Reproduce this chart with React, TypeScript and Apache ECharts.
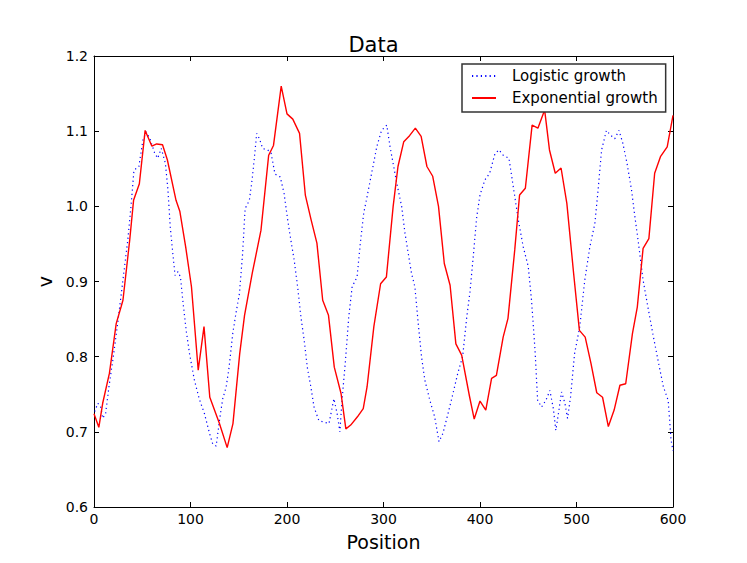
import React, { useEffect, useRef } from "react";
import * as echarts from "echarts";

const title = "Data";
const xName = "Position";
const yName = "v";
const seriesNames = ["Logistic growth", "Exponential growth"];

const logisticX = [0.7, 4, 7, 9, 12, 15.5, 20, 25, 30, 35, 38.6, 41.4, 46.5, 50.7, 54, 58, 62.8, 66, 69.7, 74, 76.6, 79, 81.7, 84, 87, 89.6, 92, 95.5, 99, 104, 109, 114.5, 119.7, 123, 126.6, 130, 133.4, 137, 140, 143.8, 147, 150.7, 154, 156.6, 161, 163.8, 166, 168.6, 171.4, 174.8, 180, 183.5, 187.5, 193, 197, 200.7, 204, 207.5, 211, 214.4, 217.8, 221, 224.7, 228, 233, 238, 243.5, 248.6, 252, 254.8, 257, 260.6, 264, 267.5, 272.6, 276, 279.5, 283, 286.3, 289.7, 293, 298, 303.4, 306.8, 310, 313.7, 318.8, 322.3, 325.7, 329, 332.5, 336, 339.4, 342.8, 348, 353, 357.5, 361.6, 366.8, 372, 377, 382, 386.3, 389.5, 393, 396.6, 400, 405, 410, 415.5, 419.7, 424, 430, 434.5, 439.7, 444.8, 450, 453.4, 457, 459.7, 463.8, 468.3, 472.4, 476, 478.6, 481, 484.5, 488, 490.7, 493.8, 498, 503.4, 508.6, 513.8, 519, 522.4, 526, 531, 535, 539.7, 544, 548, 552.4, 557, 560, 563.8, 569, 574, 579, 584.5, 590, 595, 598, 600];
const logisticY = [0.727, 0.738, 0.733, 0.718, 0.724, 0.76, 0.8, 0.849, 0.902, 0.955, 1.004, 1.048, 1.053, 1.088, 1.099, 1.09, 1.071, 1.064, 1.077, 1.057, 1.022, 0.973, 0.937, 0.908, 0.913, 0.906, 0.875, 0.835, 0.804, 0.769, 0.744, 0.724, 0.698, 0.684, 0.681, 0.715, 0.744, 0.76, 0.786, 0.831, 0.857, 0.884, 0.937, 0.997, 1.008, 1.035, 1.062, 1.097, 1.09, 1.077, 1.075, 1.071, 1.043, 1.039, 1.017, 0.982, 0.955, 0.928, 0.893, 0.853, 0.822, 0.786, 0.76, 0.733, 0.715, 0.713, 0.711, 0.744, 0.724, 0.7, 0.742, 0.795, 0.853, 0.893, 0.906, 0.951, 0.991, 1.013, 1.035, 1.057, 1.079, 1.101, 1.108, 1.079, 1.057, 1.031, 1.0, 0.964, 0.937, 0.911, 0.893, 0.844, 0.8, 0.769, 0.742, 0.72, 0.687, 0.698, 0.724, 0.751, 0.778, 0.8, 0.853, 0.885, 0.933, 0.986, 1.015, 1.035, 1.044, 1.07, 1.075, 1.068, 1.064, 1.026, 0.982, 0.946, 0.92, 0.875, 0.809, 0.742, 0.733, 0.742, 0.755, 0.731, 0.702, 0.722, 0.753, 0.738, 0.718, 0.746, 0.804, 0.84, 0.902, 0.946, 0.977, 1.022, 1.075, 1.101, 1.095, 1.09, 1.101, 1.084, 1.057, 1.022, 0.991, 0.955, 0.902, 0.866, 0.831, 0.795, 0.76, 0.742, 0.689, 0.675];

const expX = [0, 5, 9, 16, 23, 28, 30, 37, 41, 47, 53, 60, 65, 71, 76, 85, 89, 95, 101, 108, 114, 120, 130, 138, 144, 151, 156, 164, 173, 181, 186, 194, 200, 206, 213, 219, 225, 231, 237, 243, 249, 256, 261, 266, 273, 279, 283, 290, 297, 303, 310, 315, 321, 327, 333, 339, 345, 351, 357, 363, 369, 375, 381, 389, 394, 400, 406, 412, 417, 424, 429, 436, 441, 447, 454, 460, 467, 472, 478, 484, 490, 497, 503, 509, 515, 521, 527, 533, 539, 545, 551, 558, 563, 569, 575, 581, 587, 594, 600];
const expY = [0.724, 0.706, 0.738, 0.778, 0.844, 0.866, 0.875, 0.955, 1.008, 1.03, 1.101, 1.08, 1.083, 1.082, 1.062, 1.008, 0.993, 0.946, 0.893, 0.782, 0.84, 0.746, 0.711, 0.679, 0.711, 0.804, 0.855, 0.911, 0.968, 1.068, 1.081, 1.16, 1.123, 1.116, 1.097, 1.015, 0.982, 0.951, 0.875, 0.855, 0.786, 0.751, 0.704, 0.709, 0.72, 0.731, 0.76, 0.84, 0.897, 0.906, 1.0, 1.053, 1.086, 1.094, 1.104, 1.093, 1.053, 1.04, 1.0, 0.924, 0.895, 0.817, 0.802, 0.748, 0.717, 0.741, 0.729, 0.771, 0.775, 0.826, 0.851, 0.942, 1.015, 1.024, 1.108, 1.104, 1.128, 1.075, 1.044, 1.051, 1.004, 0.911, 0.835, 0.826, 0.791, 0.752, 0.746, 0.707, 0.729, 0.762, 0.764, 0.831, 0.866, 0.944, 0.957, 1.044, 1.066, 1.079, 1.121];

const xTicks = { min: 0, max: 600, interval: 100 };
const yTicks = { min: 0.6, max: 1.2, interval: 0.1 };

const FONT = "DejaVu Sans";

export default function App() {
  const ref = useRef<HTMLDivElement>(null);
  useEffect(() => {
    if (!ref.current) return;
    const chart = echarts.init(ref.current, null, { renderer: "svg" });
    const logData = logisticX.map((x, i) => [x, logisticY[i]]);
    const expData = expX.map((x, i) => [x, expY[i]]);
    const tickStyle = { inside: true, length: 5, lineStyle: { color: "#000", width: 1 } };
    const lineAxis = { show: true, onZero: false, lineStyle: { color: "#000", width: 1 } };
    chart.setOption({
      animation: false,
      backgroundColor: "#fff",
      title: {
        text: title,
        left: "center",
        top: 29,
        textStyle: { fontFamily: FONT, fontSize: 21, fontWeight: "normal", color: "#000" },
      },
      grid: { left: 94, right: 74, top: 56, bottom: 56, containLabel: false },
      legend: {
        orient: "vertical",
        left: 462,
        top: 64,
        itemWidth: 24,
        itemHeight: 16,
        itemGap: 6,
        padding: [4, 8, 6, 9],
        borderColor: "#333",
        borderWidth: 1.5,
        borderRadius: 0,
        backgroundColor: "#fff",
        itemStyle: { opacity: 0 },
        textStyle: { fontFamily: FONT, fontSize: 15, color: "#000", padding: [0, 0, 0, 11], lineHeight: 16 },
        data: seriesNames,
      },
      xAxis: [
        {
          type: "value",
          ...xTicks,
          name: xName,
          nameLocation: "middle",
          nameGap: 25,
          nameTextStyle: { fontFamily: FONT, fontSize: 19, color: "#000" },
          axisLine: lineAxis,
          axisTick: tickStyle,
          axisLabel: { fontFamily: FONT, fontSize: 14, color: "#000", margin: 5 },
          splitLine: { show: false },
        },
        {
          type: "value",
          position: "top",
          ...xTicks,
          axisLine: lineAxis,
          axisTick: tickStyle,
          axisLabel: { show: false },
          splitLine: { show: false },
        },
      ],
      yAxis: [
        {
          type: "value",
          ...yTicks,
          name: yName,
          nameLocation: "middle",
          nameGap: 37,
          nameRotate: 90,
          nameTextStyle: { fontFamily: FONT, fontSize: 19, color: "#000" },
          axisLine: lineAxis,
          axisTick: tickStyle,
          axisLabel: {
            fontFamily: FONT,
            fontSize: 14,
            color: "#000",
            margin: 6,
            formatter: (v: number) => v.toFixed(1),
          },
          splitLine: { show: false },
        },
        {
          type: "value",
          position: "right",
          ...yTicks,
          axisLine: lineAxis,
          axisTick: tickStyle,
          axisLabel: { show: false },
          splitLine: { show: false },
        },
      ],
      series: [
        {
          name: seriesNames[0],
          type: "line",
          data: logData,
          showSymbol: false,
          symbol: "none",
          lineStyle: { color: "#0000ff", width: 1.2, type: [1.2, 3.2] },
          itemStyle: { color: "#0000ff" },
        },
        {
          name: seriesNames[1],
          type: "line",
          data: expData,
          showSymbol: false,
          symbol: "none",
          lineStyle: { color: "#ff0000", width: 1.4 },
          itemStyle: { color: "#ff0000" },
        },
      ],
    });
    return () => chart.dispose();
  }, []);
  return (
    <div
      ref={ref}
      style={{ position: "fixed", left: 0, top: 0, width: 747, height: 563, background: "#fff" }}
    />
  );
}
